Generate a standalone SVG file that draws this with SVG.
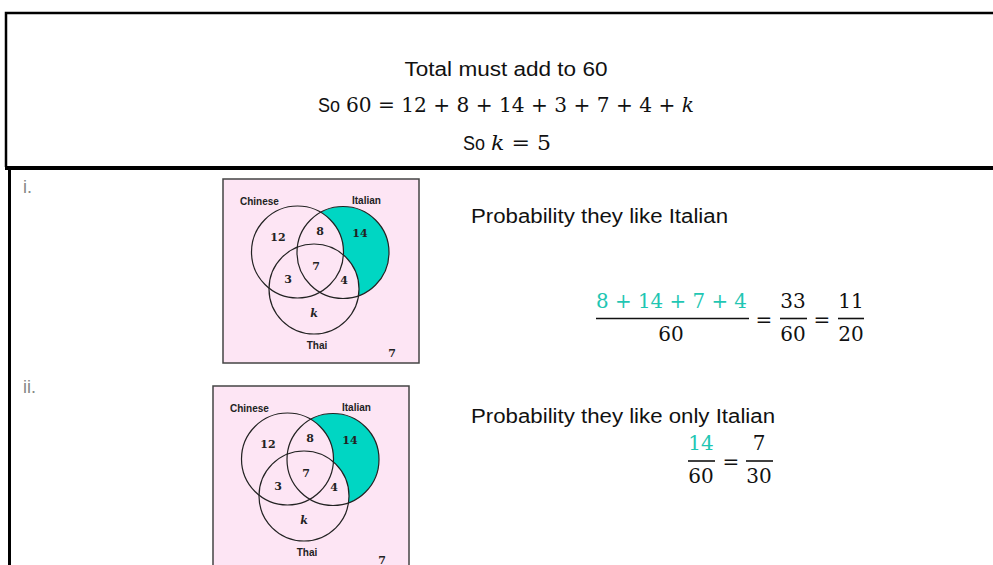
<svg xmlns="http://www.w3.org/2000/svg" xmlns:xlink="http://www.w3.org/1999/xlink" width="993" height="565" viewBox="0 0 993 565">
<style>
.txt{font-family:"Liberation Sans",Arial,sans-serif;font-size:20px;fill:#111}
.math{font-family:"DejaVu Serif","Liberation Serif",serif;font-size:20px;fill:#111}
.teal{fill:#1fc6b3}
.num{font-family:"DejaVu Serif","Liberation Serif",serif;font-size:11px;font-weight:bold;fill:#222;text-anchor:middle}
.lab{font-family:"Liberation Sans",Arial,sans-serif;font-size:10px;font-weight:bold;fill:#222}
.roman{font-family:"Liberation Sans",Arial,sans-serif;font-size:18px;fill:#888}
.bar{stroke:#111;stroke-width:1.6}
.ring{fill:none;stroke:#222;stroke-width:1.2}
</style>
<defs>
<g id="venn">
<rect x="0" y="0" width="196" height="184" fill="#fde5f4" stroke="#444" stroke-width="1.5"/>
<circle cx="120" cy="73.5" r="46" fill="#00d6c3"/>
<circle cx="74.5" cy="73" r="46" fill="#fde5f4"/>
<circle cx="91" cy="110" r="45" fill="#fde5f4"/>
<circle class="ring" cx="74.5" cy="73" r="46"/>
<circle class="ring" cx="120" cy="73.5" r="46"/>
<circle class="ring" cx="91" cy="110" r="45"/>
<text class="lab" x="17" y="26">Chinese</text>
<text class="lab" x="129" y="25">Italian</text>
<text class="num" x="55" y="62">12</text>
<text class="num" x="97" y="56">8</text>
<text class="num" x="137" y="58">14</text>
<text class="num" x="93" y="91">7</text>
<text class="num" x="65" y="104">3</text>
<text class="num" x="121" y="105">4</text>
<text class="num" x="91" y="138" font-style="italic">k</text>
<text class="lab" x="94" y="170" text-anchor="middle">Thai</text>
<text class="num" x="169" y="178">7</text>
</g>
</defs>

<g id="table">
<path d="M6 167 V13 H993" fill="none" stroke="#000" stroke-width="2.5"/>
<path d="M5 168 H993" fill="none" stroke="#000" stroke-width="4"/>
<path d="M9.5 168 V565" fill="none" stroke="#000" stroke-width="3"/>
</g>

<g id="header">
<text class="txt" x="506" y="76" text-anchor="middle" textLength="203" lengthAdjust="spacingAndGlyphs">Total must add to 60</text>
<text class="txt" x="318" y="112" textLength="22" lengthAdjust="spacingAndGlyphs">So</text>
<text class="math" x="346" y="112" textLength="348" lengthAdjust="spacingAndGlyphs">60 = 12 + 8 + 14 + 3 + 7 + 4 + <tspan font-style="italic">k</tspan></text>
<text class="txt" x="463" y="150" textLength="22" lengthAdjust="spacingAndGlyphs">So</text>
<text class="math" x="491" y="150" textLength="60" lengthAdjust="spacingAndGlyphs"><tspan font-style="italic">k</tspan> = 5</text>
</g>

<g id="part-i">
<text class="roman" x="23" y="193">i.</text>
<use id="venn-i" xlink:href="#venn" x="223" y="179"/>
<text class="txt" x="471" y="223" textLength="257" lengthAdjust="spacingAndGlyphs">Probability they like Italian</text>
<text class="math teal" x="596" y="308" textLength="151" lengthAdjust="spacingAndGlyphs">8 + 14 + 7 + 4</text>
<line class="bar" x1="596" y1="318.5" x2="749" y2="318.5"/>
<text class="math" x="671" y="341" text-anchor="middle">60</text>
<text class="math" x="764" y="327" text-anchor="middle">=</text>
<text class="math" x="793" y="308" text-anchor="middle">33</text>
<line class="bar" x1="780" y1="318.5" x2="807" y2="318.5"/>
<text class="math" x="793" y="341" text-anchor="middle">60</text>
<text class="math" x="822" y="327" text-anchor="middle">=</text>
<text class="math" x="851" y="308" text-anchor="middle">11</text>
<line class="bar" x1="838" y1="318.5" x2="864" y2="318.5"/>
<text class="math" x="851" y="341" text-anchor="middle">20</text>
</g>

<g id="part-ii">
<text class="roman" x="23" y="393">ii.</text>
<use id="venn-ii" xlink:href="#venn" x="213" y="386"/>
<text class="txt" x="471" y="423" textLength="304" lengthAdjust="spacingAndGlyphs">Probability they like only Italian</text>
<text class="math teal" x="701" y="450" text-anchor="middle">14</text>
<line class="bar" x1="688" y1="461" x2="715" y2="461"/>
<text class="math" x="701" y="483" text-anchor="middle">60</text>
<text class="math" x="731" y="469" text-anchor="middle">=</text>
<text class="math" x="759" y="450" text-anchor="middle">7</text>
<line class="bar" x1="746" y1="461" x2="773" y2="461"/>
<text class="math" x="759" y="483" text-anchor="middle">30</text>
</g>
</svg>
